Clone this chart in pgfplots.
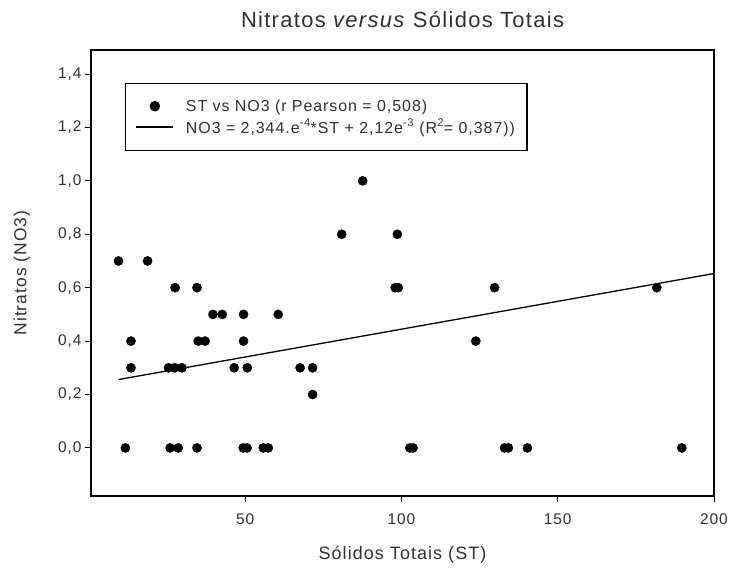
\documentclass[border=0pt]{standalone}
\usepackage{fontspec}
\setmainfont{Liberation Sans}[LetterSpace=6]
\usepackage{pgfplots}
\pgfplotsset{compat=1.18}
\definecolor{txt}{HTML}{303030}
\begin{document}
\begin{tikzpicture}[x=1bp,y=1bp]
\path[use as bounding box] (0,0) rectangle (733,573);
\begin{axis}[
  at={(91bp,77bp)}, anchor=south west,
  scale only axis, width=623bp, height=446bp,
  xmin=0.7, xmax=200, ymin=-0.18, ymax=1.49,
  xtick={50,100,150,200}, ytick={0,0.2,0.4,0.6,0.8,1.0,1.2,1.4},
  xtick pos=bottom, ytick pos=left, tick align=outside,
  major tick length=6bp,
  axis line style={line width=1.1bp},
  tick style={line width=1bp, black},
  /pgf/number format/assume math mode=true,
  yticklabel style={/pgf/number format/.cd, fixed, fixed zerofill, precision=1, use comma},
  xticklabel style={/pgf/number format/.cd, fixed, precision=0, /tikz/.cd, yshift=-8bp},
  ticklabel style={font=\fontsize{15.5}{18}\selectfont, text=txt},
  title={Nitratos \textit{versus} Sólidos Totais},
  title style={at={(axis description cs:0.5,1.055)}, anchor=center, font=\fontsize{22}{26}\selectfont, text=txt},
  xlabel={Sólidos Totais (ST)},
  xlabel style={at={(axis description cs:0.5,-0.132)}, anchor=center, font=\fontsize{18}{21}\selectfont, text=txt},
  ylabel={Nitratos (NO3)},
  ylabel style={at={(axis description cs:-0.111,0.5)}, anchor=center, font=\fontsize{17.5}{20}\selectfont, text=txt},
  legend style={at={(axis description cs:0.0546,0.926)}, anchor=north west,
    draw=black, line width=1.3bp, font=\fontsize{16}{19}\selectfont, text=txt,
    inner xsep=10bp, inner ysep=13.5bp, row sep=1.5bp,
    nodes={inner ysep=2.5bp}},
  legend cell align=left,
  legend image code/.code={\draw[mark repeat=2,mark phase=2,#1] plot coordinates {(0bp,0bp) (18.5bp,0bp) (37bp,0bp)}; \path (47bp,0bp);},
]
\addplot[only marks, mark=*, mark size=4.6bp, black] coordinates {
(9.5,0.7) (18.8,0.7)
(27.6,0.6) (34.6,0.6) (98,0.6) (99,0.6) (129.8,0.6) (181.7,0.6)
(39.7,0.5) (42.7,0.5) (49.5,0.5) (60.6,0.5)
(13.5,0.4) (35,0.4) (37.2,0.4) (49.5,0.4) (123.8,0.4)
(13.5,0.3) (25.5,0.3) (27.5,0.3) (29.8,0.3) (46.5,0.3) (50.7,0.3) (67.6,0.3) (71.6,0.3)
(71.6,0.2)
(80.9,0.8) (98.7,0.8)
(87.6,1.0)
(11.7,0) (26,0) (28.6,0) (34.6,0) (49.4,0) (50.6,0) (55.8,0) (57.4,0)
(102.7,0) (103.7,0) (133,0) (134.2,0) (140.3,0) (189.7,0)
};
\addlegendentry{ST vs NO3 (r Pearson = 0,508)}
\addplot[black, line width=1.3bp] coordinates {(9.5,0.256) (200,0.653)};
\addlegendentry{NO3 = 2,344.e\textsuperscript{-4}*ST + 2,12e\textsuperscript{-3} (R\textsuperscript{2}= 0,387))}
\end{axis}
\end{tikzpicture}
\end{document}
